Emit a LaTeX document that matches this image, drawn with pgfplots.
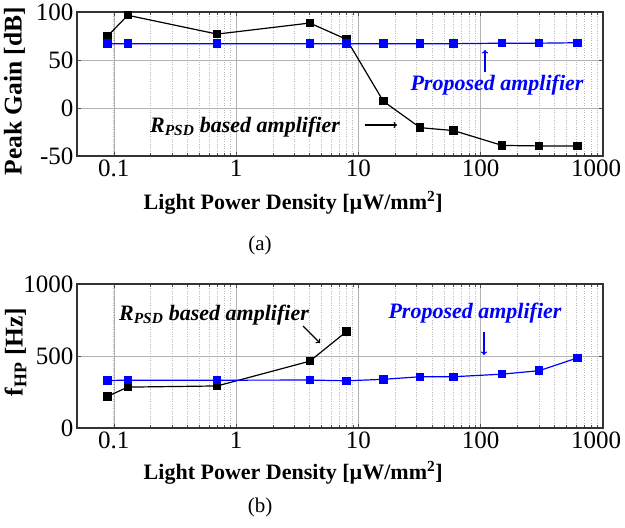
\documentclass[border=0pt]{standalone}
\usepackage{pgfplots}
\pgfplotsset{compat=1.18}
\usepackage{fontspec}
\setmainfont{Liberation Serif}
\pgfplotsset{myax/.style={
 scale only axis, width=526pt, height=144pt,
 xmin=0.05, xmax=1000,
 xtick={0.1,1,10,100,1000},
 xticklabels={0.1,1,10,100,\makebox[0pt][c]{1000\hspace{14pt}}},
 grid=both,
 major grid style={gray!60, line width=0.6pt},
 minor grid style={gray!55, dotted, line width=0.7pt},
 minor y tick num=0,
 axis line style={line width=1.1pt, black!80},
 tick style={black!70, line width=0.6pt},
 tick label style={font=\fontsize{25}{25}\selectfont},
 label style={font=\bfseries\fontsize{22}{24}\selectfont},
 ylabel style={font=\bfseries\fontsize{25.5}{26}\selectfont, inner sep=0pt},
 /pgf/number format/assume math mode=true,
 /pgf/number format/1000 sep={},
 tick align=inside,
 anchor=south west,
}}
\begin{document}
\begin{tikzpicture}[x=1pt,y=1pt]
\useasboundingbox (0,0) rectangle (625,-528);
% ---------- (a) ----------
\begin{semilogxaxis}[myax, at={(77pt,-156pt)},
 ymin=-50, ymax=100, ytick={-50,0,50,100},
 xlabel={Light Power Density [µW/mm\textsuperscript{2}]},
 xlabel style={at={(axis description cs:0.411,-0.326)}, anchor=center},
 ylabel={Peak Gain [dB]},
 ylabel style={at={(axis description cs:-0.119,0.45)}, anchor=center},
]
\addplot[black, line width=1.2pt, mark=square*, mark size=3.6pt] coordinates {
(0.089,75)(0.13,96.6)(0.7,77)(4,88.5)(8,71.5)(16,7)(32,-20.5)(60,-23.5)(150,-39)(300,-39.5)(620,-39.5)};
\addplot[blue, line width=1.2pt, mark=square*, mark size=3.6pt] coordinates {
(0.089,67)(0.13,67)(0.7,67)(4,67)(8,67)(16,67)(32,67)(60,67)(150,67.5)(300,67.5)(620,68)};
\end{semilogxaxis}
\node[font=\bfseries\itshape\fontsize{22}{24}\selectfont, text=blue] at (497,-85) {Proposed amplifier};
\draw[->, blue, line width=1.3pt] (485,-72) -- (485,-50);
\node[font=\bfseries\itshape\fontsize{22}{24}\selectfont] at (245,-127) {R\textsubscript{PSD} based amplifier};
\draw[->, black, line width=1.3pt] (365,-125) -- (397,-125);
\node[font=\fontsize{21}{22}\selectfont] at (260,-245) {(a)};
% ---------- (b) ----------
\begin{semilogxaxis}[myax, at={(77pt,-428pt)},
 ymin=0, ymax=1000, ytick={0,500,1000},
 xlabel={Light Power Density [µW/mm\textsuperscript{2}]},
 xlabel style={at={(axis description cs:0.411,-0.3125)}, anchor=center},
 ylabel={f\textsubscript{HP} [Hz]},
 ylabel style={at={(axis description cs:-0.117,0.528)}, anchor=center},
]
\addplot[black, line width=1.2pt, mark=square*, mark size=3.6pt] coordinates {
(0.089,220)(0.13,284)(0.7,292)(4,464)(8,670)};
\addplot[blue, line width=1.2pt, mark=square*, mark size=3.6pt] coordinates {
(0.089,330)(0.13,332)(0.7,332)(4,333)(8,328)(16,338)(32,356)(60,356)(150,374)(300,398)(620,487)};
\end{semilogxaxis}
\node[font=\bfseries\itshape\fontsize{22}{24}\selectfont] at (214,-315) {R\textsubscript{PSD} based amplifier};
\draw[->, black, line width=1.3pt] (303,-326) -- (320,-343);
\node[font=\bfseries\itshape\fontsize{22}{24}\selectfont, text=blue] at (475,-313) {Proposed amplifier};
\draw[->, blue, line width=1.3pt] (484,-332) -- (484,-355);
\node[font=\fontsize{21}{22}\selectfont] at (260,-507) {(b)};
\end{tikzpicture}
\end{document}
